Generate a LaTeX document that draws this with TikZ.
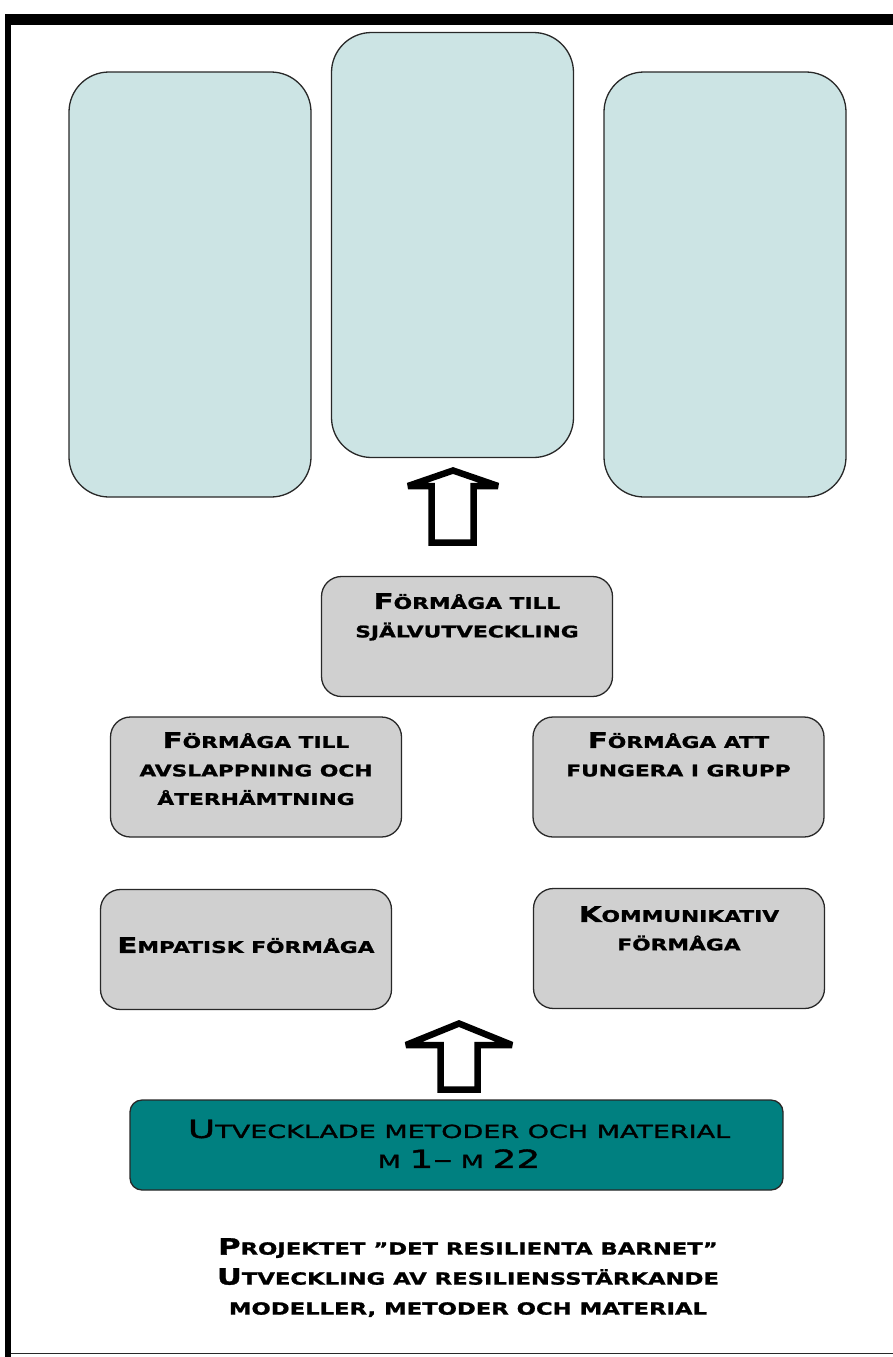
\documentclass[tikz,border=0pt]{standalone}
\usepackage{fontspec}
\setmainfont{DejaVu Sans}
\newfontfamily\capsfont[FakeStretch=1.36, FakeBold=1.3]{DejaVu Sans}
\newfontfamily\tealfont[FakeStretch=1.5, FakeBold=1.6]{DejaVu Sans}
\usetikzlibrary{positioning}

\definecolor{paleteal}{RGB}{204,228,228}
\definecolor{boxgray}{RGB}{208,208,208}
\definecolor{methodteal}{RGB}{0,128,128}
\definecolor{edgegray}{RGB}{40,40,40}

% larger initial letter for the small-caps look
\newcommand{\firstcap}[1]{{\fontsize{21.5}{21.5}\selectfont #1}}
\newcommand{\firstcapL}[1]{{\fontsize{22.5}{22.5}\selectfont #1}}
\newcommand{\firstcapT}[1]{{\fontsize{25}{25}\selectfont #1}}

\begin{document}
\begin{tikzpicture}[
  x=1pt, y=-1pt,
  plan/.style={draw=edgegray, line width=1.3pt, fill=paleteal, rounded corners=40pt,
               minimum width=242pt, minimum height=425pt, inner sep=0pt},
  skill/.style={draw=edgegray, line width=1.3pt, fill=boxgray, rounded corners=20pt,
                minimum width=291pt, minimum height=120pt, inner sep=0pt},
  methodbox/.style={draw=edgegray, line width=1.3pt, fill=methodteal, rounded corners=12pt,
                    minimum width=653pt, minimum height=90pt, inner sep=0pt},
  skilltext/.style={font=\capsfont\bfseries\fontsize{16}{28.5}\selectfont, align=center,
                    anchor=north, inner sep=0pt},
  methodtext/.style={font=\tealfont\fontsize{18}{30}\selectfont, align=center,
                     anchor=north, inner sep=0pt},
  titletext/.style={font=\capsfont\bfseries\fontsize{16.7}{30}\selectfont, align=center,
                    anchor=north, inner sep=0pt},
  hollow/.style={draw=black, line width=6.5pt, fill=white, line join=miter, miter limit=2},
]
\useasboundingbox (0,0) rectangle (893,1357);

% --- Frame ---
\fill[black] (5,14) rectangle (893,25);
\fill[black] (5,14) rectangle (11,1357);
\draw[edgegray, line width=1pt] (11,1353) -- (893,1353);

% --- Top three (empty) boxes ---
\node[plan] (planL) at (190,284.5) {};
\node[plan] (planC) at (452.5,245) {};
\node[plan] (planR) at (725,284.5) {};

% arrow up to the centre box
\draw[hollow] (431.5,542.5) -- (431.5,486) -- (408,486) -- (453,470.5)
  -- (498,486) -- (473.5,486) -- (473.5,542.5) -- cycle;

% --- Skill boxes ---
\node[skill] (self) at (467,636.5) {};
\node[skill] (relax) at (256,777) {};
\node[skill] (group) at (678.5,777) {};
\node[skill] (empathy) at (246,949.5) {};
\node[skill] (comm) at (679,948.5) {};

\node[skilltext] (selfT) at (467,593) {\firstcap{F}ÖRMÅGA TILL\\SJÄLVUTVECKLING};
\node[skilltext] (relaxT) at (256,732) {\firstcap{F}ÖRMÅGA TILL\\AVSLAPPNING OCH\\ÅTERHÄMTNING};
\node[skilltext] (groupT) at (678.5,732) {\firstcap{F}ÖRMÅGA ATT\\FUNGERA I GRUPP};
\node[skilltext] (empathyT) at (246,937) {\firstcap{E}MPATISK FÖRMÅGA};
\node[skilltext] (commT) at (679,906) {\firstcap{K}OMMUNIKATIV\\FÖRMÅGA};

% arrow up from the methods
\draw[hollow] (440.5,1089.5) -- (440.5,1045) -- (406,1045) -- (459,1023.5)
  -- (512,1045) -- (477.5,1045) -- (477.5,1089.5) -- cycle;

% --- Methods box ---
\node[methodbox] (methods) at (456.5,1145) {};
\node[methodtext] (methodsT) at (459,1119.5)
  {\firstcapT{U}TVECKLADE METODER OCH MATERIAL\\M \firstcapT{1–} M \firstcapT{22}};

% --- Project title ---
\node[titletext] (title) at (468,1238)
  {\firstcapL{P}ROJEKTET ”DET RESILIENTA BARNET”\\\firstcapL{U}TVECKLING AV RESILIENSSTÄRKANDE\\MODELLER, METODER OCH MATERIAL};

\end{tikzpicture}
\end{document}
